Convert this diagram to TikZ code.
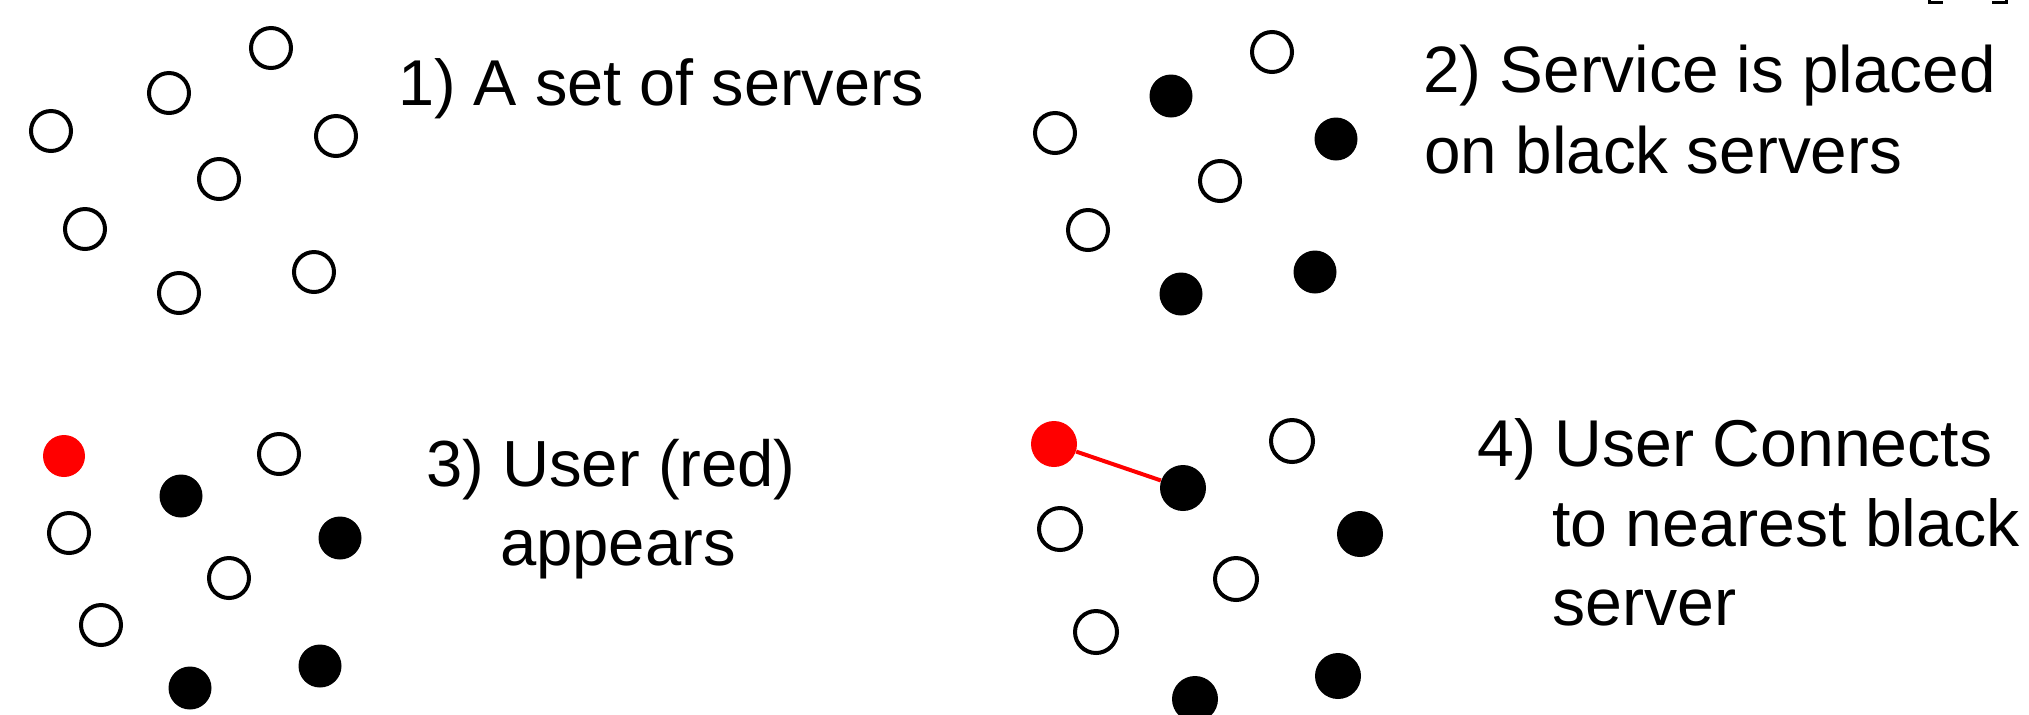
\documentclass[tikz,border=0pt]{standalone}
\usepackage{fontspec}
\setmainfont{Liberation Sans}
\begin{document}
\begin{tikzpicture}[x=0.5pt,y=-0.5pt,
  srvw/.style={circle,draw=black,fill=white,line width=2pt,inner sep=0pt,minimum size=20pt},
  srvb/.style={circle,fill=black,inner sep=0pt,minimum size=21.5pt},
  usr/.style={circle,fill=red,inner sep=0pt,minimum size=21pt},
  srvwL/.style={srvw,minimum size=21pt},
  srvbL/.style={srvb,minimum size=23pt},
  usrL/.style={usr,minimum size=23pt},
  lbl/.style={inner sep=0pt,font=\fontsize{32.4}{38}\selectfont},
  lblB/.style={lbl,font=\fontsize{32.8}{38}\selectfont},
  lblC/.style={lbl,font=\fontsize{32.6}{38}\selectfont},
  lblD/.style={lbl,font=\fontsize{33.1}{38}\selectfont},
  link/.style={draw=red,line width=2pt},
  frag/.style={line width=1.35pt}]
\useasboundingbox (0,0) rectangle (2029,714);
% Panel 1
\node[srvw] (p1a) at (271,48) {};
\node[srvw] (p1b) at (169,93) {};
\node[srvw] (p1c) at (51,131) {};
\node[srvw] (p1d) at (336,136) {};
\node[srvw] (p1e) at (219,179) {};
\node[srvw] (p1f) at (85,229) {};
\node[srvw] (p1g) at (314,272) {};
\node[srvw] (p1h) at (179,293) {};
\node[lbl,anchor=base west] (t1) at (398,105) {1) A set of servers};
% Panel 2
\node[srvw] (p2a) at (1272,52) {};
\node[srvb] (p2b) at (1171,96) {};
\node[srvw] (p2c) at (1055,133) {};
\node[srvb] (p2d) at (1336,139) {};
\node[srvw] (p2e) at (1220,181) {};
\node[srvw] (p2f) at (1088,230) {};
\node[srvb] (p2g) at (1315,272) {};
\node[srvb] (p2h) at (1181,294) {};
\node[lblB,anchor=base west] (t2a) at (1423,92) {2) Service is placed};
\node[lblB,anchor=base west] (t2b) at (1424,173) {on black servers};
% Panel 3
\node[usr] (p3r) at (64,456) {};
\node[srvw] (p3a) at (279,454) {};
\node[srvb] (p3b) at (181,496) {};
\node[srvw] (p3c) at (69,533) {};
\node[srvb] (p3d) at (340,538) {};
\node[srvw] (p3e) at (229,578) {};
\node[srvw] (p3f) at (101,625) {};
\node[srvb] (p3g) at (320,666) {};
\node[srvb] (p3h) at (190,688) {};
\node[lblC,anchor=base] (t3a) at (611,486) {3) User (red)};
\node[lblC,anchor=base] (t3b) at (618,565) {appears};
% Panel 4
\node[usrL] (p4r) at (1054,444) {};
\node[srvwL] (p4a) at (1292,441) {};
\node[srvbL] (p4b) at (1183,488) {};
\node[srvwL] (p4c) at (1060,529) {};
\node[srvbL] (p4d) at (1360,534) {};
\node[srvwL] (p4e) at (1236,579) {};
\node[srvwL] (p4f) at (1096,632) {};
\node[srvbL] (p4g) at (1338,676) {};
\node[srvbL] (p4h) at (1195,699) {};
\draw[link] (p4r) -- (p4b);
\node[lblD,anchor=base west] (t4a) at (1477,466) {4) User Connects};
\node[lblD,anchor=base west] (t4b) at (1552,546) {to nearest black};
\node[lblD,anchor=base west] (t4c) at (1552,625) {server};
% cropped bracket fragments at the top edge
\coordinate (f1) at (1929.3,0);
\coordinate (f2) at (2006.3,0);
\draw[frag] (f1) -- ++(0,2.6) -- ++(13.7,0);
\draw[frag] (f2) -- ++(0,2.6) -- ++(-14.3,0);
\end{tikzpicture}
\end{document}
